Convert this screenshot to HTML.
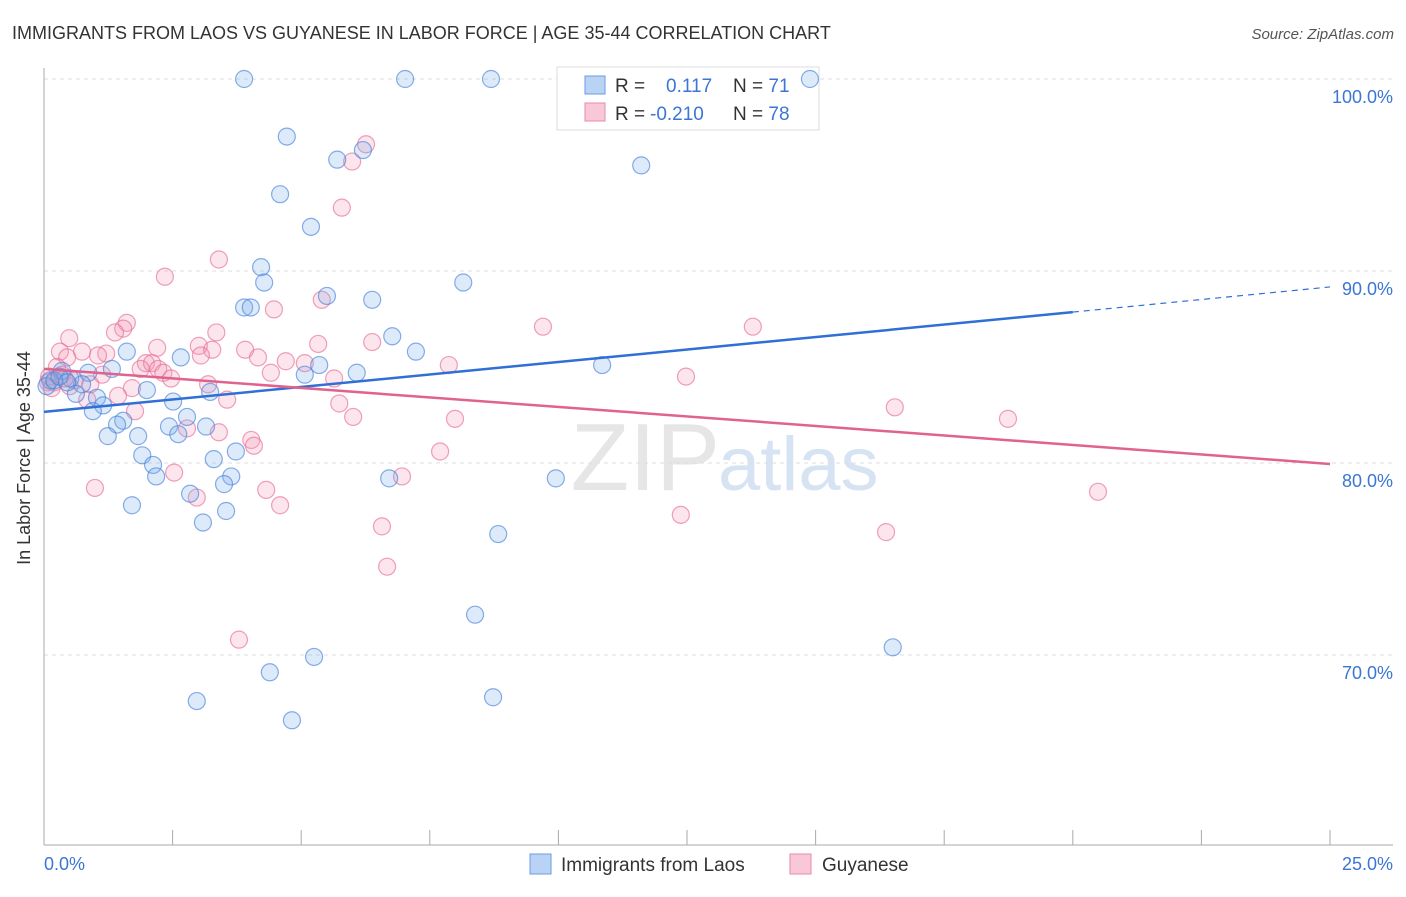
<!DOCTYPE html>
<html><head><meta charset="utf-8"><style>
body{margin:0;background:#fff;font-family:"Liberation Sans",sans-serif;}
svg text{font-family:"Liberation Sans",sans-serif;}
</style></head><body>
<svg id="chart" width="1406" height="892" xmlns="http://www.w3.org/2000/svg">
<text x="12" y="39" font-size="18" fill="#333">IMMIGRANTS FROM LAOS VS GUYANESE IN LABOR FORCE | AGE 35-44 CORRELATION CHART</text>
<text x="1394" y="39" font-size="15" fill="#555" text-anchor="end" font-style="italic">Source: ZipAtlas.com</text>
<text x="720" y="490" font-size="96" fill="#e6e6e6" font-family="Liberation Serif" text-anchor="end">ZIP</text>
<text x="718" y="490" font-size="76" fill="#d6e3f3">atlas</text>
<g id="grid"></g>
<g id="axes"></g>
<g>
<rect x="557" y="67" width="262" height="63" fill="#fff" stroke="#ddd"/>
<rect x="585" y="76" width="20" height="18" fill="#b9d3f5" stroke="#6a9be0"/>
<rect x="585" y="103" width="20" height="18" fill="#f9c8d7" stroke="#e88aa8"/>
<text x="615" y="92" font-size="19" fill="#333">R = <tspan fill="#3b75d6" x="666">0.117</tspan><tspan fill="#333" x="733">N = </tspan><tspan fill="#3b75d6">71</tspan></text>
<text x="615" y="120" font-size="19" fill="#333">R = <tspan fill="#3b75d6" x="650">-0.210</tspan><tspan fill="#333" x="733">N = </tspan><tspan fill="#3b75d6">78</tspan></text>
</g>
<g id="pts"></g>
<g id="trends"></g>
<text x="30" y="458" font-size="18" fill="#333" text-anchor="middle" transform="rotate(-90 30 458)">In Labor Force | Age 35-44</text>
<g>
<rect x="530" y="854" width="21" height="20" fill="#b9d3f5" stroke="#6a9be0"/>
<text x="561" y="871" font-size="19" fill="#333">Immigrants from Laos</text>
<rect x="790" y="854" width="21" height="20" fill="#f9c8d7" stroke="#e88aa8"/>
<text x="822" y="871" font-size="19" fill="#333">Guyanese</text>
</g>
</svg>
<script>
const blueX=[3.89,7.02,8.69,14.89,4.72,5.70,6.20,11.61,4.59,5.19,4.22,4.28,8.15,5.50,6.38,3.89,4.02,6.77,7.23,1.61,2.66,10.85,5.35,1.32,0.35,0.86,5.07,6.08,0.12,0.51,0.74,0.62,2.0,3.23,1.03,2.51,1.15,0.95,2.78,1.54,1.42,2.43,3.15,2.61,1.24,1.83,3.73,1.91,2.12,3.30,3.64,2.18,6.71,9.95,3.50,2.84,1.71,3.54,3.09,8.83,8.38,16.50,5.25,4.39,8.73,2.97,4.82,0.05,0.2,0.3,0.45];
const blueY=[100,100,100,100,97.0,95.8,96.3,95.5,94.0,92.3,90.2,89.4,89.4,88.7,88.5,88.1,88.1,86.6,85.8,85.8,85.5,85.1,85.1,84.9,84.8,84.7,84.6,84.7,84.3,84.4,84.1,83.6,83.8,83.7,83.4,83.2,83.0,82.7,82.4,82.2,82.0,81.9,81.9,81.5,81.4,81.4,80.6,80.4,79.9,80.2,79.3,79.3,79.2,79.2,78.9,78.4,77.8,77.5,76.9,76.3,72.1,70.4,69.9,69.1,67.8,67.6,66.6,84.0,84.3,84.5,84.2];
const pinkX=[6.26,5.99,5.79,2.35,3.40,5.40,4.47,9.70,13.78,1.61,1.54,0.49,3.35,1.38,5.33,6.38,2.20,3.01,3.27,3.91,0.31,0.74,1.21,1.05,0.45,3.05,4.16,4.70,5.07,1.98,2.10,2.22,7.87,1.88,2.32,0.25,4.41,2.47,12.48,5.64,1.13,0.08,1.71,3.19,1.44,0.84,3.56,5.74,16.54,1.77,6.01,7.99,18.74,2.78,3.40,4.03,4.08,7.70,2.53,6.96,0.99,4.32,20.49,2.97,4.59,12.38,6.57,16.37,6.67,3.79,0.1,0.2,0.35,0.5,0.15,0.6,0.9,0.4];
const pinkY=[96.6,95.7,93.3,89.7,90.6,88.5,88.0,87.1,87.1,87.3,87.0,86.5,86.8,86.8,86.2,86.3,86.0,86.1,85.9,85.9,85.8,85.8,85.7,85.6,85.5,85.6,85.5,85.3,85.2,85.2,85.2,84.9,85.1,84.9,84.7,85.0,84.7,84.4,84.5,84.4,84.6,84.2,83.9,84.1,83.5,83.3,83.3,83.1,82.9,82.7,82.4,82.3,82.3,81.8,81.6,81.2,80.9,80.6,79.5,79.3,78.7,78.6,78.5,78.2,77.8,77.3,76.7,76.4,74.6,70.8,84.5,84.2,84.6,84.0,83.9,84.3,84.1,84.4];
const yTicks=[100,90,80,70];
const yTickLabels=["100.0%","90.0%","80.0%","70.0%"];
const xTicks=[0,2.5,5,7.5,10,12.5,15,17.5,20,22.5,25];
const blueTrend=[[0,82.66],[20,87.86],[25,89.17]];
const pinkTrend=[[0,84.9],[25,79.95]];
const NS='http://www.w3.org/2000/svg';
const X=v=>44+v/25*1286, Y=v=>79+(100-v)*19.2;
function mk(tag,attrs,parent){const e=document.createElementNS(NS,tag);for(const k in attrs)e.setAttribute(k,attrs[k]);document.getElementById(parent).appendChild(e);return e;}
yTicks.forEach((t,i)=>{
  const g=mk('line',{x1:44,x2:1393,y1:Y(t),y2:Y(t),stroke:'#ddd','stroke-dasharray':'4,4'},'grid');
  
  
  const l=mk('text',{x:1393,y:Y(t)+24,'font-size':18,fill:'#3b75d6','text-anchor':'end'},'grid');
  l.textContent=yTickLabels[i];
  
  
});
const ya=mk('line',{x1:44,x2:44,y1:68,y2:845,stroke:'#aaa'},'axes');


const xa=mk('line',{x1:44,x2:1393,y1:845,y2:845,stroke:'#aaa'},'axes');


xTicks.forEach(t=>{
  const k=mk('line',{x1:X(t),x2:X(t),y1:830,y2:845,stroke:'#aaa'},'axes');
  
  
});
const xl0=mk('text',{x:44,y:870,'font-size':18,fill:'#3b75d6'},'axes');xl0.textContent='0.0%';


const xl1=mk('text',{x:1393,y:870,'font-size':18,fill:'#3b75d6','text-anchor':'end'},'axes');xl1.textContent='25.0%';


pinkX.forEach((v,i)=>{
  const c=mk('circle',{cx:X(v),cy:Y(pinkY[i]),r:8.5,fill:'rgba(242,150,180,0.25)',stroke:'rgba(230,110,150,0.65)','stroke-width':1.2},'pts');
  
  
});
blueX.forEach((v,i)=>{
  const c=mk('circle',{cx:X(v),cy:Y(blueY[i]),r:8.5,fill:'rgba(120,170,235,0.25)',stroke:'rgba(70,130,220,0.65)','stroke-width':1.2},'pts');
  
  
});
const b1=mk('line',{x1:X(blueTrend[0][0]),y1:Y(blueTrend[0][1]),x2:X(blueTrend[1][0]),y2:Y(blueTrend[1][1]),stroke:'#2f6fd6','stroke-width':2.5},'trends');


const b2=mk('line',{x1:X(blueTrend[1][0]),y1:Y(blueTrend[1][1]),x2:X(blueTrend[2][0]),y2:Y(blueTrend[2][1]),stroke:'#2f6fd6','stroke-width':1.2,'stroke-dasharray':'6,5'},'trends');


const p1=mk('line',{x1:X(pinkTrend[0][0]),y1:Y(pinkTrend[0][1]),x2:X(pinkTrend[1][0]),y2:Y(pinkTrend[1][1]),stroke:'#e0628e','stroke-width':2.5},'trends');


</script>
</body></html>
